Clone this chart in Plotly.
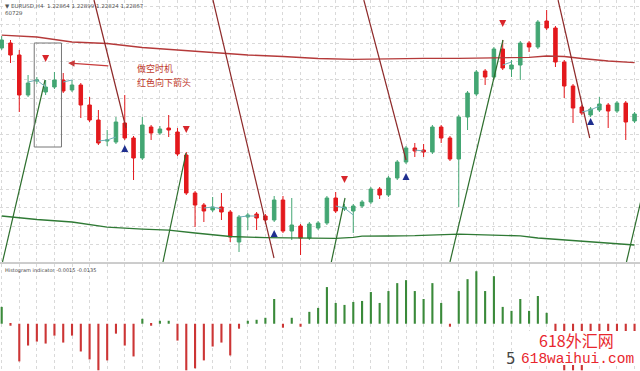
import plotly.graph_objects as go
from plotly.subplots import make_subplots

# ---------------- data ----------------
opens = [1.2352,1.2357,1.2345,1.2305,1.2319,1.2308,1.2313,1.2320,1.2310,1.2315,
         1.2295,1.2280,1.2259,1.2258,1.2277,1.2262,1.2242,1.2273,1.2267,1.2272,
         1.2268,1.2245,1.2207,1.2195,1.2190,1.2193,1.2188,1.2158,1.2183,1.2186,
         1.2184,1.2180,1.2200,1.2169,1.2174,1.2162,1.2172,1.2177,1.2202,1.2191,
         1.2189,1.2194,1.2198,1.2211,1.2205,1.2222,1.2238,1.2252,1.2250,1.2248,
         1.2273,1.2262,1.2241,1.2283,1.2306,1.2329,1.2323,1.2351,1.2331,1.2335,
         1.2357,1.2353,1.2379,1.2372,1.2338,1.2314,1.2293,1.2285,1.2290,1.2295,
         1.2289,1.2297,1.2279]
highs = [1.2364,1.2360,1.2350,1.2325,1.2323,1.2320,1.2328,1.2327,1.2320,1.2317,
         1.2303,1.2290,1.2270,1.2283,1.2305,1.2264,1.2283,1.2275,1.2274,1.2285,
         1.2272,1.2248,1.2209,1.2197,1.2203,1.2207,1.2190,1.2185,1.2187,1.2188,
         1.2186,1.2204,1.2204,1.2202,1.2176,1.2178,1.2179,1.2204,1.2208,1.2196,
         1.2196,1.2200,1.2213,1.2213,1.2224,1.2240,1.2254,1.2257,1.2256,1.2275,
         1.2275,1.2264,1.2285,1.2309,1.2330,1.2331,1.2353,1.2360,1.2340,1.2359,
         1.2359,1.2380,1.2390,1.2374,1.2340,1.2316,1.2295,1.2293,1.2303,1.2297,
         1.2299,1.2299,1.2288]
lows = [1.2350,1.2337,1.2288,1.2303,1.2316,1.2305,1.2311,1.2307,1.2308,1.2282,
        1.2278,1.2255,1.2254,1.2256,1.2260,1.2220,1.2240,1.2260,1.2265,1.2263,
        1.2244,1.2205,1.2173,1.2178,1.2188,1.2180,1.2158,1.2148,1.2170,1.2170,
        1.2176,1.2178,1.2167,1.2160,1.2145,1.2160,1.2170,1.2175,1.2187,1.2189,
        1.2167,1.2192,1.2196,1.2201,1.2203,1.2220,1.2236,1.2243,1.2243,1.2246,
        1.2257,1.2239,1.2193,1.2270,1.2304,1.2315,1.2321,1.2330,1.2323,1.2320,
        1.2348,1.2351,1.2370,1.2333,1.2302,1.2277,1.2285,1.2283,1.2288,1.2272,
        1.2287,1.2260,1.2277]
closes = [1.2360,1.2345,1.2305,1.2317,1.2320,1.2313,1.2320,1.2309,1.2315,1.2295,
          1.2280,1.2257,1.2260,1.2278,1.2262,1.2242,1.2275,1.2267,1.2271,1.2270,
          1.2246,1.2207,1.2195,1.2189,1.2193,1.2188,1.2163,1.2183,1.2185,1.2182,
          1.2180,1.2200,1.2169,1.2175,1.2162,1.2176,1.2177,1.2202,1.2189,1.2193,
          1.2194,1.2198,1.2211,1.2205,1.2222,1.2238,1.2252,1.2249,1.2248,1.2273,
          1.2262,1.2241,1.2283,1.2307,1.2328,1.2323,1.2351,1.2332,1.2335,1.2357,
          1.2353,1.2378,1.2372,1.2338,1.2314,1.2292,1.2287,1.2291,1.2296,1.2289,
          1.2297,1.2278,1.2286]
bars = list(range(len(opens)))

hist_values = [0.0017,-0.0002,-0.0038,-0.0022,-0.0018,-0.0020,-0.0012,-0.0019,-0.0012,-0.0028,
               -0.0036,-0.0047,-0.0037,-0.0010,-0.0022,-0.0033,0.0005,-0.0002,0.0003,0.0003,
               -0.0017,-0.0047,-0.0045,-0.0037,-0.0023,-0.0019,-0.0032,-0.0005,0.0003,0.0004,
               0.0006,0.0025,-0.0004,0.0006,-0.0003,0.0012,0.0016,0.0037,0.0021,0.0019,
               0.0022,0.0023,0.0032,0.0021,0.0033,0.0041,0.0044,0.0033,0.0025,0.0041,
               0.0021,-0.0003,0.0033,0.0045,0.0053,0.0033,0.0048,0.0017,0.0013,0.0025,
               0.0013,0.0028,0.0011,-0.0030,-0.0047,-0.0047,-0.0047,-0.0035,-0.0030,-0.0025,
               -0.0020,-0.0030,-0.0030]

ma_red_x = [0,4,8,12,16,20,24,28,32,36,40,44,48,52,56,60,62,64,66,69,72]
ma_red_y = [1.23648,1.2363,1.2358,1.23565,1.23525,1.2350,1.23475,1.2345,1.23435,1.23415,
            1.23407,1.23415,1.23417,1.23417,1.2342,1.23427,1.2344,1.23435,1.23415,1.2339,1.23373]
ma_green_x = [0,4,8,11,12,16,19,22,26,30,34,38,40,41,44,47,52,56,59,61,66,72]
ma_green_y = [1.2184,1.21805,1.2178,1.21742,1.21728,1.21708,1.21698,1.2167,1.21635,1.21624,
              1.21617,1.21617,1.21627,1.21638,1.2164,1.21643,1.21658,1.21652,1.21642,1.2162,
              1.21585,1.2155]

# trend lines: (x0, y0, x1, y1) in bar index / price
red_lines = [(10.5, 1.2400, 14.14, 1.2272),
             (24.04, 1.2400, 30.98, 1.2142),
             (41.2, 1.2400, 46.0, 1.2240),
             (63.3, 1.2400, 66.9, 1.2262)]
green_lines = [(0.09, 1.2138, 4.93, 1.2320),
               (18.35, 1.2138, 20.97, 1.2247),
               (37.5, 1.2138, 39.06, 1.2202),
               (51.0, 1.2138, 57.03, 1.2360),
               (71.08, 1.2138, 72.85, 1.2204)]

teal_segments = [([3,4,5],[1.2318,1.2320,1.2313]),
                 ([7,8],[1.2318,1.2320]),
                 ([11,12,13],[1.2259,1.2260,1.2263]),
                 ([23,24,25],[1.2192,1.2193,1.2191]),
                 ([27,28,29],[1.2183,1.2184,1.2184]),
                 ([38,39,40],[1.2194,1.2192,1.2185]),
                 ([47,48],[1.2250,1.2249]),
                 ([57,58],[1.2335,1.2338]),
                 ([66,67,68],[1.2288,1.2290,1.2294])]

sell_x = [5, 21, 39, 57]
sell_y = [1.2338, 1.2267, 1.2217, 1.2373]
buy_x = [14, 31, 46, 67]
buy_y = [1.2255, 1.2170, 1.2227, 1.2282]

box = dict(x0=3.7, x1=6.8, y0=1.2253, y1=1.2357)

# ---------------- figure ----------------
W, H = 640, 371
top_dom = [1 - 262 / H, 1]
bot_dom = [0, 1 - 264 / H]

fig = make_subplots(rows=2, cols=1, shared_xaxes=True, vertical_spacing=0)

GREEN_C = "#43a673"
RED_C = "#e3181c"

fig.add_trace(go.Scatter(x=ma_red_x, y=ma_red_y, mode="lines",
                         line=dict(color="#b53a3a", width=1.3), hoverinfo="skip"), row=1, col=1)
fig.add_trace(go.Scatter(x=ma_green_x, y=ma_green_y, mode="lines",
                         line=dict(color="#2f7a35", width=1.3), hoverinfo="skip"), row=1, col=1)

for (x0, y0, x1, y1) in red_lines:
    fig.add_trace(go.Scatter(x=[x0, x1], y=[y0, y1], mode="lines",
                             line=dict(color="#8e2a2a", width=1.2), hoverinfo="skip"), row=1, col=1)
for (x0, y0, x1, y1) in green_lines:
    fig.add_trace(go.Scatter(x=[x0, x1], y=[y0, y1], mode="lines",
                             line=dict(color="#2d6e2d", width=1.2), hoverinfo="skip"), row=1, col=1)

fig.add_trace(go.Candlestick(x=bars, open=opens, high=highs, low=lows, close=closes,
                             increasing=dict(line=dict(color=GREEN_C, width=1), fillcolor=GREEN_C),
                             decreasing=dict(line=dict(color=RED_C, width=1), fillcolor=RED_C),
                             whiskerwidth=0, hoverinfo="skip"), row=1, col=1)

for xs, ys in teal_segments:
    fig.add_trace(go.Scatter(x=xs, y=ys, mode="lines",
                             line=dict(color="#6fb0b8", width=1), hoverinfo="skip"), row=1, col=1)

fig.add_trace(go.Scatter(x=sell_x, y=sell_y, mode="markers",
                         marker=dict(symbol="arrow-down", size=7, color="#d8262b"),
                         hoverinfo="skip"), row=1, col=1)
fig.add_trace(go.Scatter(x=buy_x, y=buy_y, mode="markers",
                         marker=dict(symbol="arrow-up", size=7, color="#1f2f8f"),
                         hoverinfo="skip"), row=1, col=1)

hist_colors = ["#3a8a3a" if v >= 0 else "#cc3535" for v in hist_values]
fig.add_trace(go.Bar(x=bars, y=hist_values, marker=dict(color=hist_colors, line=dict(width=0)),
                     width=0.24, hoverinfo="skip"), row=2, col=1)

x_range = [-0.193, 72.62]
grid = dict(showgrid=True, gridcolor="#d9d9d9", griddash="dot", gridwidth=1)
fig.update_xaxes(range=x_range, tick0=0, dtick=2, showticklabels=False, ticks="",
                 zeroline=False, showline=False, rangeslider=dict(visible=False), **grid)
fig.update_yaxes(showticklabels=False, ticks="", zeroline=False, showline=False)
fig.update_layout(
    width=W, height=H, margin=dict(l=0, r=0, t=0, b=0),
    paper_bgcolor="white", plot_bgcolor="white", showlegend=False,
    boxgap=0.43,
    xaxis=dict(domain=[0, 1]),
    yaxis=dict(domain=top_dom, range=[1.2138, 1.2400], tick0=1.2302, dtick=0.00183, **grid),
    yaxis2=dict(domain=bot_dom, range=[-0.00477, 0.00603], showgrid=False),
    xaxis2=dict(range=x_range),
)

# rectangle around signal
fig.add_shape(type="rect", xref="x", yref="y", x0=box["x0"], x1=box["x1"],
              y0=box["y0"], y1=box["y1"], line=dict(color="#777777", width=1))

# panel separator
fig.add_shape(type="line", xref="paper", yref="paper", x0=0, x1=1,
              y0=1 - 263 / H, y1=1 - 263 / H, line=dict(color="#9a9a9a", width=1))

# explanatory arrow + text
fig.add_annotation(x=7.55, y=1.2337, ax=12.3, ay=1.2334, xref="x", yref="y",
                   axref="x", ayref="y", text="", showarrow=True, arrowhead=2,
                   arrowsize=1.2, arrowwidth=1.1, arrowcolor="#c83a3a")
fig.add_annotation(x=15.2, y=1.2332, xref="x", yref="y", text="做空时机", showarrow=False,
                   xanchor="left", yanchor="middle",
                   font=dict(family="Noto Sans CJK SC", size=9, color="#c0392b"))
fig.add_annotation(x=15.2, y=1.2318, xref="x", yref="y", text="红色向下箭头", showarrow=False,
                   xanchor="left", yanchor="middle",
                   font=dict(family="Noto Sans CJK SC", size=9, color="#c0392b"))

# header texts
fig.add_annotation(x=3 / W, y=1 - 1 / H, xref="paper", yref="paper", xanchor="left", yanchor="top",
                   text="▼ EURUSD,H4  1.22864 1.22899 1.22824 1.22867", showarrow=False,
                   font=dict(family="DejaVu Sans", size=5.5, color="#555555"))
fig.add_annotation(x=3 / W, y=1 - 8 / H, xref="paper", yref="paper", xanchor="left", yanchor="top",
                   text="60729", showarrow=False,
                   font=dict(family="DejaVu Sans", size=5.5, color="#555555"))
fig.add_annotation(x=3 / W, y=1 - 265 / H, xref="paper", yref="paper", xanchor="left", yanchor="top",
                   text="Histogram indicator -0.0015 -0.0135", showarrow=False,
                   font=dict(family="DejaVu Sans", size=5, color="#444444"))

# watermark
fig.add_shape(type="rect", xref="paper", yref="paper", x0=516 / W, x1=1,
              y0=1 - 365 / H, y1=1 - 331 / H, fillcolor="white", line=dict(width=0), layer="above")
fig.add_annotation(x=576 / W, y=1 - 339.5 / H, xref="paper", yref="paper", text="618外汇网",
                   xanchor="center", yanchor="middle", showarrow=False,
                   font=dict(family="Noto Sans CJK SC", size=16, color="#e8262d"))
fig.add_annotation(x=577 / W, y=1 - 358.5 / H, xref="paper", yref="paper", text="618waihui.com",
                   xanchor="center", yanchor="middle", showarrow=False,
                   font=dict(family="Liberation Mono", size=14.5, color="#e8262d"))
fig.add_annotation(x=511 / W, y=1 - 358.5 / H, xref="paper", yref="paper", text="5",
                   xanchor="center", yanchor="middle", showarrow=False,
                   font=dict(family="DejaVu Sans", size=15, color="#444444"))

fig.write_html("out.html")
